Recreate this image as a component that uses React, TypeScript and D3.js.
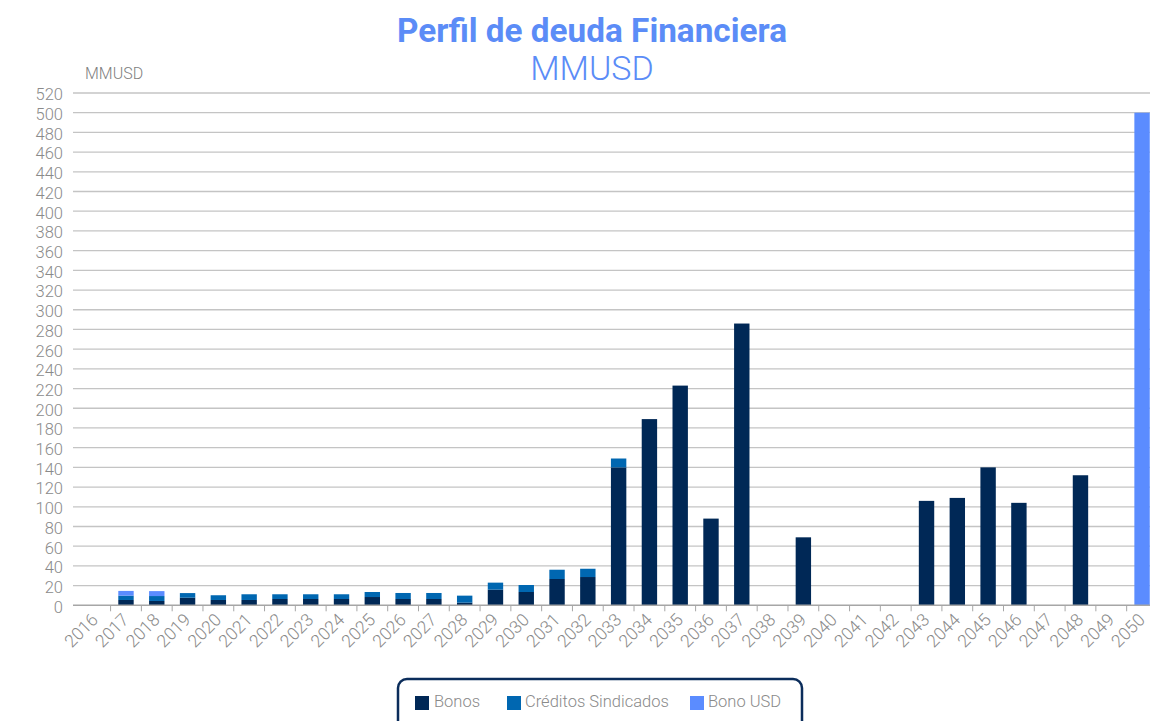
import React from "react";
import * as d3 from "d3";

const years = d3.range(2016, 2051).map(String);
const bonos = [0, 5.4, 4.4, 7.7, 5.4, 5.4, 6.4, 6.4, 6.4, 8.4, 6.4, 6.4, 2.7, 15.9, 13.5, 26.7, 28.7, 140, 189, 223, 88, 286, 0, 69, 0, 0, 0, 106, 109, 140, 104, 0, 132, 0, 0];
const creditos = [0, 4.4, 5, 4.7, 4.8, 5.8, 4.8, 4.8, 4.8, 5.1, 6.1, 6.1, 7.1, 7.1, 7.1, 9.4, 8.4, 9, 0, 0, 0, 0, 0, 0, 0, 0, 0, 0, 0, 0, 0, 0, 0, 0, 0];
const bonoUsd = [0, 4.8, 5, 0, 0, 0, 0, 0, 0, 0, 0, 0, 0, 0, 0, 0, 0, 0, 0, 0, 0, 0, 0, 0, 0, 0, 0, 0, 0, 0, 0, 0, 0, 0, 500];
const yTicks = d3.range(0, 521, 20);
const seriesNames = ["Bonos", "Créditos Sindicados", "Bono USD"];
const colors = ["#002856", "#0067b1", "#5b8cff"];

const W = 1150;
const H = 721;
const FONT = "Roboto, 'Open Sans', sans-serif";

export default function App() {
  const step = 30.79;
  const x0 = 79.8;
  const x = d3.scaleBand().domain(years).range([x0, x0 + step * years.length]).padding(0);
  const y = d3.scaleLinear().domain([0, 520]).range([605.3, 93]);
  const bw = x.bandwidth() * 0.5;

  const rows = years.map((yr, i) => ({ year: yr, Bonos: bonos[i], "Créditos Sindicados": creditos[i], "Bono USD": bonoUsd[i] }));
  const stack = d3.stack<any>().keys(seriesNames)(rows);

  const legendItems = [
    { name: "Bonos", sx: 415, tx: 434 },
    { name: "Créditos Sindicados", sx: 507, tx: 525 },
    { name: "Bono USD", sx: 690, tx: 708 },
  ];

  return (
    <svg width={W} height={H} style={{ position: "absolute", left: 0, top: 0, background: "#fff" }} fontFamily={FONT}>
      <text x={592} y={42} textAnchor="middle" fontSize={33} fontWeight={700} fill="#5b8cf7" textLength={390} lengthAdjust="spacingAndGlyphs">
        Perfil de deuda Financiera
      </text>
      <text x={592} y={80} textAnchor="middle" fontSize={34} fontWeight={300} fill="#5b8cf7">
        MMUSD
      </text>
      <text x={85} y={79} fontSize={16} fontWeight={300} fill="#7f7f7f">MMUSD</text>

      {yTicks.map((t) => (
        <g key={t}>
          {t > 0 && <line x1={73} x2={W} y1={y(t)} y2={y(t)} stroke="#c4c4c4" strokeWidth={1.3} />}
          <text x={63} y={y(t) + 3} textAnchor="end" dominantBaseline="middle" fontSize={16.5} fontWeight={300} fill="#8a8a8a">
            {t}
          </text>
        </g>
      ))}

      {stack.map((s, si) => (
        <g key={si} fill={colors[si]}>
          {s.map((d, i) =>
            d[1] - d[0] > 0 ? (
              <rect
                key={i}
                x={(x(years[i]) as number) + (x.bandwidth() - bw) / 2}
                y={y(d[1])}
                width={bw}
                height={y(d[0]) - y(d[1])}
              />
            ) : null
          )}
        </g>
      ))}

      <line x1={73} x2={W} y1={y(0)} y2={y(0)} stroke="#a6a6a6" strokeWidth={1.5} />
      {years.slice(1).map((yr) => (
        <line key={yr} x1={x(yr) as number} x2={x(yr) as number} y1={y(0)} y2={y(0) + 6} stroke="#a6a6a6" strokeWidth={1} />
      ))}
      {years.map((yr) => {
        const cx = (x(yr) as number) + x.bandwidth() / 2 + 4;
        return (
          <text key={yr} transform={`translate(${cx},${621}) rotate(-45)`} textAnchor="end" fontSize={17.5} fontWeight={300} fill="#8a8a8a">
            {yr}
          </text>
        );
      })}

      <rect x={398} y={679} width={404} height={60} rx={9} fill="#fff" stroke="#0b2d5b" strokeWidth={2.5} />
      {legendItems.map((it, i) => (
        <g key={it.name}>
          <rect x={it.sx} y={696} width={14} height={14} fill={colors[i]} />
          <text x={it.tx} y={703} dominantBaseline="middle" fontSize={16.5} fontWeight={300} fill="#8a8a8a">
            {it.name}
          </text>
        </g>
      ))}
    </svg>
  );
}
